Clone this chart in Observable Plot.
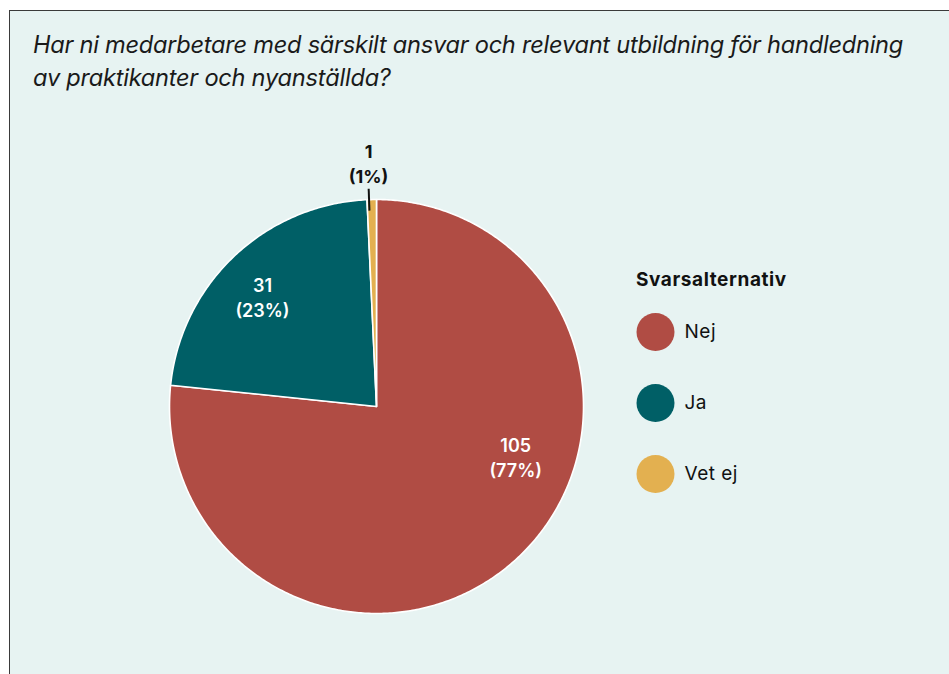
<!DOCTYPE html>
<html>
<head>
<meta charset="utf-8">
<script src="https://cdn.jsdelivr.net/npm/d3@7"></script>
<script src="https://cdn.jsdelivr.net/npm/@observablehq/plot@0.6"></script>
<style>
  html, body { margin: 0; padding: 0; background: #ffffff; }
  body { width: 949px; height: 674px; position: relative; overflow: hidden; font-family: Inter, "Noto Sans", sans-serif; }
  #frame { position: absolute; left: 9px; top: 10px; width: 940px; height: 664px; background: #e7f3f2;
           border-left: 1.3px solid #3a3a3a; border-top: 1.3px solid #3a3a3a; box-sizing: border-box; }
  #title { position: absolute; left: 33px; top: 28px; width: 910px; font-size: 23.6px; line-height: 33px;
           font-style: italic; color: #1a1a1a; letter-spacing: -0.25px; white-space: nowrap; }
  #pie { position: absolute; left: 0; top: 110px; }
  #legtitle { position: absolute; left: 636px; top: 268px; font-size: 19px; font-weight: 700; color: #111; letter-spacing: 0.6px; }
  #legend { position: absolute; left: 616px; top: 296px; }
</style>
</head>
<body>
<div id="frame"></div>
<div id="title">Har ni medarbetare med särskilt ansvar och relevant utbildning för handledning<br>av praktikanter och nyanställda?</div>
<div id="pie"></div>
<div id="legtitle">Svarsalternativ</div>
<div id="legend"></div>
<script>
const categories = ["Nej", "Ja", "Vet ej"];
const counts = [105, 31, 1];
const colors = ["#b04c44", "#005f66", "#e3b050"];
const legendTitle = "Svarsalternativ";

const data = categories.map((c, i) => ({key: c, value: counts[i]}));
const total = d3.sum(counts);
const arcs = d3.pie().sort(null).value(d => d.value)(data);

// polygon points for each slice in unit-circle data space
const points = [];
for (const a of arcs) {
  const n = Math.max(2, Math.ceil((a.endAngle - a.startAngle) / 0.01));
  points.push({key: a.data.key, x: 0, y: 0});
  for (let k = 0; k <= n; k++) {
    const t = a.startAngle + (a.endAngle - a.startAngle) * k / n;
    points.push({key: a.data.key, x: Math.sin(t), y: Math.cos(t)});
  }
  points.push({key: a.data.key, x: 0, y: 0});
}

// label placement tweaks (angle offset in radians, radius as fraction)
const labelTweak = {"Nej": {da: -0.49, r: 0.715}, "Ja": {da: -0.047, r: 0.765}};
const inside = arcs.filter(a => a.endAngle - a.startAngle > 0.3).map(a => {
  const tw = labelTweak[a.data.key] || {da: 0, r: 0.7};
  const t = (a.startAngle + a.endAngle) / 2 + tw.da;
  return {x: tw.r * Math.sin(t), y: tw.r * Math.cos(t),
          label: `${a.data.value}\n(${Math.round(a.data.value / total * 100)}%)`};
});
const outside = arcs.filter(a => a.endAngle - a.startAngle <= 0.3).map(a => {
  const t = (a.startAngle + a.endAngle) / 2 - 0.013;
  return {x1: 0.947 * Math.sin(t), y1: 0.947 * Math.cos(t), x2: 1.053 * Math.sin(t), y2: 1.053 * Math.cos(t),
          x: 1.07 * Math.sin(t), y: 1.07 * Math.cos(t),
          label: `${a.data.value}\n(${Math.round(a.data.value / total * 100)}%)`};
});

const cx = 376, cy = 296, R = 207;
const pie = Plot.plot({
  width: 949,
  height: 564,
  margin: 0,
  style: {background: "transparent", fontFamily: "Inter, 'Noto Sans', sans-serif"},
  x: {domain: [-1, 1], range: [cx - R, cx + R], axis: null},
  y: {domain: [-1, 1], range: [cy + R, cy - R], axis: null},
  color: {domain: categories, range: colors},
  marks: [
    Plot.line(points, {x: "x", y: "y", z: "key", fill: "key", stroke: "white", strokeWidth: 1.6, strokeLinejoin: "round", curve: "linear"}),
    Plot.text(inside, {x: "x", y: "y", text: "label", fill: "white", fontSize: 18, fontWeight: 600, lineHeight: 1.38}),
    Plot.link(outside, {x1: "x1", y1: "y1", x2: "x2", y2: "y2", stroke: "#111", strokeWidth: 2}),
    Plot.text(outside, {x: "x", y: "y", text: "label", fill: "#111", fontSize: 18, fontWeight: 700, lineHeight: 1.38, lineAnchor: "bottom", dy: -2})
  ]
});
document.getElementById("pie").appendChild(pie);

const legend = Plot.plot({
  width: 200,
  height: 213,
  margin: 0,
  style: {background: "transparent", fontFamily: "Inter, 'Noto Sans', sans-serif"},
  y: {domain: categories, type: "band", padding: 0, axis: null},
  color: {domain: categories, range: colors},
  marks: [
    Plot.dot(categories, {y: d => d, fill: d => d, r: 19, frameAnchor: "left", dx: 39}),
    Plot.text(categories, {y: d => d, text: d => d, frameAnchor: "left", dx: 68, textAnchor: "start", fontSize: 19, fill: "#111", style: "letter-spacing:0.5px"})
  ]
});
legend.querySelectorAll("text").forEach(t => t.style.letterSpacing = "0.5px");
document.getElementById("legend").appendChild(legend);
</script>
</body>
</html>
